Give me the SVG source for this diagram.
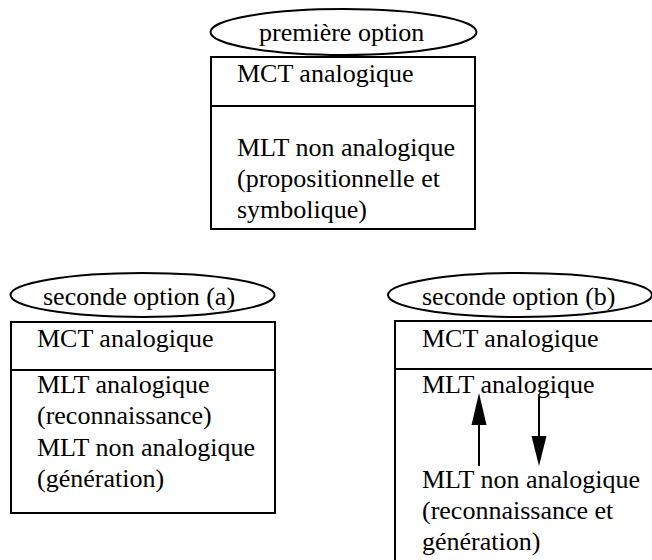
<svg xmlns="http://www.w3.org/2000/svg" width="652" height="560" viewBox="0 0 652 560">
<style>
.s{fill:none;stroke:#000;stroke-width:2}
.t{font-family:"Liberation Serif","Times New Roman",serif;font-size:26px;fill:#000}
</style>
<rect width="652" height="560" fill="#fff"/>
<g id="premiere">
<ellipse class="s" cx="343.5" cy="32" rx="133" ry="23"/>
<text class="t" x="259" y="41">première option</text>
<rect class="s" x="211" y="57" width="264" height="172"/>
<line class="s" x1="211" y1="106" x2="475" y2="106"/>
<text class="t" x="237" y="82">MCT analogique</text>
<text class="t" x="237" y="156">MLT non analogique</text>
<text class="t" x="237" y="187">(propositionnelle et</text>
<text class="t" x="237" y="218">symbolique)</text>
</g>
<g id="seconde-a">
<ellipse class="s" cx="142.5" cy="295" rx="132" ry="22"/>
<text class="t" x="43" y="305">seconde option (a)</text>
<rect class="s" x="11" y="322" width="264" height="191"/>
<line class="s" x1="11" y1="370" x2="275" y2="370"/>
<text class="t" x="37" y="347">MCT analogique</text>
<text class="t" x="37" y="393">MLT analogique</text>
<text class="t" x="37" y="424">(reconnaissance)</text>
<text class="t" x="37" y="456">MLT non analogique</text>
<text class="t" x="37" y="487">(génération)</text>
</g>
<g id="seconde-b">
<ellipse class="s" cx="520" cy="295" rx="132" ry="22"/>
<text class="t" x="422" y="305">seconde option (b)</text>
<rect class="s" x="395" y="321" width="290" height="260"/>
<line class="s" x1="395" y1="369" x2="652" y2="369"/>
<text class="t" x="422" y="347">MCT analogique</text>
<text class="t" x="422" y="393">MLT analogique</text>
<text class="t" x="422" y="488">MLT non analogique</text>
<text class="t" x="422" y="519">(reconnaissance et</text>
<text class="t" x="422" y="550">génération)</text>
</g>
<g id="connectors">
<line class="s" x1="479" y1="466" x2="479" y2="420"/>
<polygon points="479,393 471.5,425 486.5,425" fill="#000"/>
<line class="s" x1="539" y1="397" x2="539" y2="440"/>
<polygon points="539,466 531.5,436 546.5,436" fill="#000"/>
</g>
</svg>
